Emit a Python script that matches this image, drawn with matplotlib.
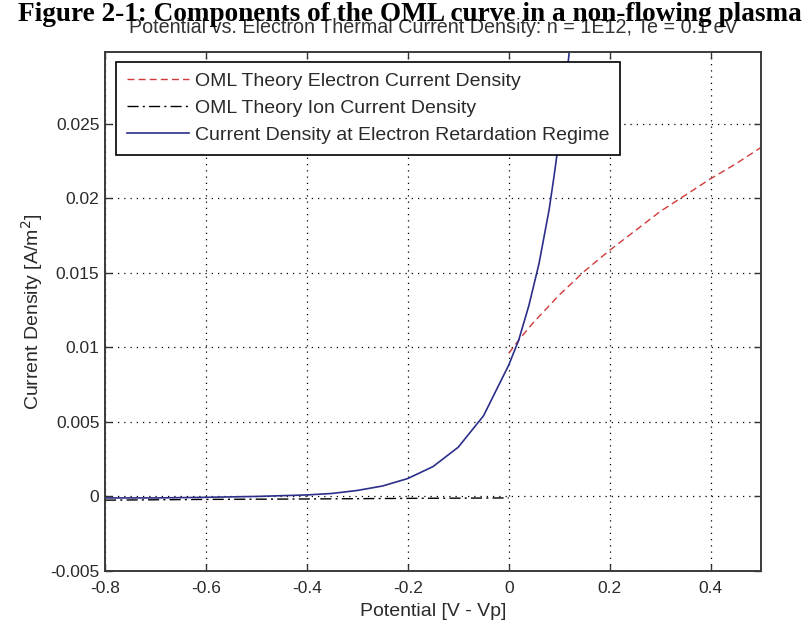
import matplotlib
matplotlib.use("Agg")
import matplotlib.pyplot as plt

FONT = "Liberation Sans"

# Data
ret_x = [-0.8, -0.7, -0.6, -0.5, -0.4, -0.35, -0.3, -0.25, -0.2, -0.15, -0.1, -0.05,
         0.0, 0.02, 0.04, 0.06, 0.08, 0.09, 0.1, 0.11, 0.12]
ret_y = [-0.0001, -0.0001, -0.00006, 0.0, 0.0001, 0.0002, 0.0004, 0.0007, 0.0012, 0.0020,
         0.0033, 0.0054, 0.0088, 0.0105, 0.0128, 0.0156, 0.0192, 0.0215, 0.0240, 0.0266, 0.0298]

oml_e_x = [0.0, 0.025, 0.05, 0.1, 0.15, 0.2, 0.25, 0.3, 0.35, 0.4, 0.45, 0.5]
oml_e_y = [0.0096, 0.0107, 0.0117, 0.0135, 0.0151, 0.0165, 0.0178, 0.0191, 0.0202, 0.0213, 0.0223, 0.0234]

oml_i_x = [-0.8, -0.6, -0.4, -0.2, 0.0]
oml_i_y = [-0.00025, -0.0002, -0.00017, -0.00013, -0.0001]

xticks = [-0.8, -0.6, -0.4, -0.2, 0, 0.2, 0.4]
xticklabels = ["-0.8", "-0.6", "-0.4", "-0.2", "0", "0.2", "0.4"]
yticks = [-0.005, 0, 0.005, 0.01, 0.015, 0.02, 0.025]
yticklabels = ["-0.005", "0", "0.005", "0.01", "0.015", "0.02", "0.025"]

labels = ["OML Theory Electron Current Density",
          "OML Theory Ion Current Density",
          "Current Density at Electron Retardation Regime"]

W, H = 806, 629
fig = plt.figure(figsize=(W / 100, H / 100), dpi=100)
fig.patch.set_facecolor("white")
L, R, T, B = 105, 761, 52, 571
ax = fig.add_axes([L / W, 1 - B / H, (R - L) / W, (B - T) / H])

tc = "#2a2a2a"
ax.plot(oml_e_x, oml_e_y, color="#d03a3a", lw=1.0, ls=(0, (5, 3)), label=labels[0])
ax.plot(oml_i_x, oml_i_y, color="black", lw=1.0, ls=(0, (8, 3, 1.5, 3)), label=labels[1])
ax.plot(ret_x, ret_y, color="#2b2f8a", lw=1.2, label=labels[2])

ax.set_xlim(-0.8, 0.5)
ax.set_ylim(-0.005, 0.0298)
ax.set_xticks(xticks)
ax.set_xticklabels(xticklabels)
ax.set_yticks(yticks)
ax.set_yticklabels(yticklabels)
ax.grid(True, color="black", ls=(0, (1, 4)), lw=0.9)
ax.tick_params(direction="in", top=True, right=True, length=5, width=1, color="#333333",
               labelsize=12.5, labelcolor=tc)
ax.tick_params(axis="x", pad=7)
ax.tick_params(axis="y", pad=4)
for lab in ax.get_xticklabels() + ax.get_yticklabels():
    lab.set_family(FONT)
for s in ax.spines.values():
    s.set_color("#3a3a3a")
    s.set_linewidth(1.4)

ax.set_xlabel("Potential [V - Vp]", family=FONT, fontsize=14, color=tc)
ax.xaxis.set_label_coords(0.5, (B - 603) / (B - T))
ax.set_ylabel("Current Density [A/m$^2$]", family=FONT, fontsize=14, color=tc, va="center")
ax.yaxis.set_label_coords((32 - L) / (R - L), 0.5)

leg = ax.legend(loc="upper left", bbox_to_anchor=(116 / W, 1 - 62 / H),
                bbox_transform=fig.transFigure, frameon=True, fancybox=False,
                framealpha=1.0, facecolor="white",
                edgecolor="black", borderaxespad=0, handlelength=3.2, handletextpad=0.3,
                labelspacing=0.48, borderpad=0.55, prop={"family": FONT, "size": 14})
leg.get_frame().set_linewidth(1.2)
for t in leg.get_texts():
    t.set_color(tc)

fig.text((L + R) / 2 / W, 1 - 33 / H,
         "Potential vs. Electron Thermal Current Density: n = 1E12, Te = 0.1 eV",
         ha="center", va="baseline", family=FONT, fontsize=14.2, color="#333333")
fig.text(410 / W, 1 - 21 / H, "Figure 2-1: Components of the OML curve in a non-flowing plasma",
         ha="center", va="baseline", family="Liberation Serif", fontweight="bold", fontsize=19.6,
         color="black")

fig.savefig("out.png", dpi=100)
